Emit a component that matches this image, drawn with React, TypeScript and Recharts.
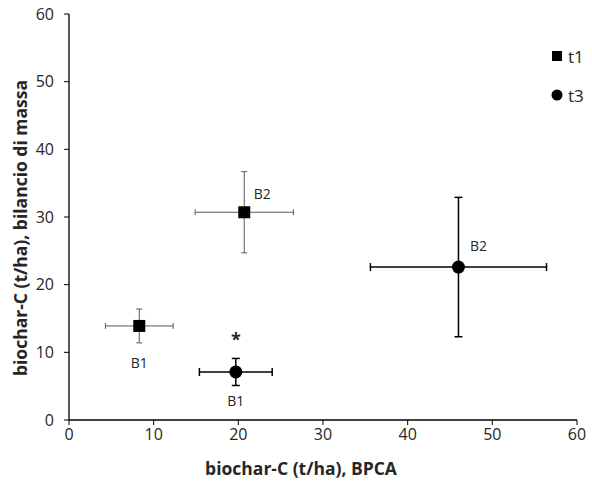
import React from 'react';
import { ScatterChart, Scatter, XAxis, YAxis, ErrorBar, Label, Legend } from 'recharts';

const t1Names = ['B1', 'B2'];
const t1X = [8.3, 20.7];
const t1Y = [13.9, 30.7];
const t1ErrX = [4.0, 5.8];
const t1ErrY = [2.5, 6.0];

const t3Names = ['B1', 'B2'];
const t3X = [19.7, 46.0];
const t3Y = [7.1, 22.6];
const t3ErrX = [4.3, 10.4];
const t3ErrY = [2.0, 10.3];
const t3Marks = ['*', ''];

const xTicks = [0, 10, 20, 30, 40, 50, 60];
const yTicks = [0, 10, 20, 30, 40, 50, 60];
const seriesNames = ['t1', 't3'];

const t1Data = t1Names.map((n, i) => ({ name: n, x: t1X[i], y: t1Y[i], ex: t1ErrX[i], ey: t1ErrY[i], mark: '' }));
const t3Data = t3Names.map((n, i) => ({ name: n, x: t3X[i], y: t3Y[i], ex: t3ErrX[i], ey: t3ErrY[i], mark: t3Marks[i] }));

// label placement (layout only)
const placeT1: Record<string, { dx: number; dy: number }> = { B1: { dx: 0, dy: 37 }, B2: { dx: 18, dy: -19 } };
const placeT3: Record<string, { dx: number; dy: number }> = { B1: { dx: 0, dy: 29 }, B2: { dx: 20, dy: -22 } };

const FONT = '"Open Sans", Lato, sans-serif';
const TXT = '#262626';

const SquareShape = (props: any) => {
  const { cx, cy, payload } = props;
  const p = placeT1[payload.name];
  return (
    <g>
      <rect x={cx - 6} y={cy - 6} width={12} height={12} fill="#000" />
      <text x={cx + p.dx} y={cy + p.dy} textAnchor="middle" dominantBaseline="central" fontSize={14} fontFamily={FONT} fill={TXT}>
        {payload.name}
      </text>
    </g>
  );
};

const CircleShape = (props: any) => {
  const { cx, cy, payload } = props;
  const p = placeT3[payload.name];
  return (
    <g>
      <circle cx={cx} cy={cy} r={6.5} fill="#000" />
      <text x={cx + p.dx} y={cy + p.dy} textAnchor="middle" dominantBaseline="central" fontSize={14} fontFamily={FONT} fill={TXT}>
        {payload.name}
      </text>
      {payload.mark ? (
        <text x={cx} y={cy - 33} textAnchor="middle" dominantBaseline="central" fontSize={18} fontWeight="bold" fontFamily={FONT} fill={TXT}>
          {payload.mark}
        </text>
      ) : null}
    </g>
  );
};

const LegendContent = () => (
  <div style={{ fontFamily: FONT, fontSize: 17, color: TXT }}>
    <div style={{ display: 'flex', alignItems: 'center', height: 22 }}>
      <svg width={12} height={12} style={{ marginRight: 5 }}>
        <rect x={1} y={1} width={10} height={10} fill="#000" />
      </svg>
      <span>{seriesNames[0]}</span>
    </div>
    <div style={{ display: 'flex', alignItems: 'center', height: 22, marginTop: 17 }}>
      <svg width={12} height={12} style={{ marginRight: 5 }}>
        <circle cx={6} cy={6} r={5.5} fill="#000" />
      </svg>
      <span>{seriesNames[1]}</span>
    </div>
  </div>
);

export default function App() {
  return (
    <div style={{ position: 'absolute', left: 0, top: 0, width: 592, height: 486, background: '#fff' }}>
      <ScatterChart width={592} height={486} margin={{ top: 14, right: 15, left: 0, bottom: 0 }}>
        <XAxis
          type="number"
          dataKey="x"
          domain={[0, 60]}
          ticks={xTicks}
          interval={0}
          height={66}
          tickSize={5}
          tickMargin={4}
          axisLine={{ stroke: '#000', strokeWidth: 1.3 }}
          tickLine={{ stroke: '#000' }}
          tick={{ fontSize: 16, fontFamily: FONT, fill: TXT }}
        >
          <Label
            content={(props: any) => {
              const vb = props.viewBox;
              return (
                <text x={vb.x + vb.width / 2 - 22} y={vb.y + 48} textAnchor="middle" dominantBaseline="central" fontSize={17.5} fontWeight="bold" fontFamily={FONT} fill={TXT}>
                  biochar-C (t/ha), BPCA
                </text>
              );
            }}
          />
        </XAxis>
        <YAxis
          type="number"
          dataKey="y"
          domain={[0, 60]}
          ticks={yTicks}
          interval={0}
          width={69}
          tickSize={5}
          tickMargin={10}
          axisLine={{ stroke: '#000', strokeWidth: 1.3 }}
          tickLine={{ stroke: '#000' }}
          tick={{ fontSize: 16, fontFamily: FONT, fill: TXT }}
        >
          <Label
            content={(props: any) => {
              const vb = props.viewBox;
              const x = vb.x + 20;
              const y = vb.y + vb.height / 2 + 11;
              return (
                <text x={x} y={y} transform={`rotate(-90 ${x} ${y})`} textAnchor="middle" dominantBaseline="central" fontSize={17.5} fontWeight="bold" fontFamily={FONT} fill={TXT}>
                  biochar-C (t/ha), bilancio di massa
                </text>
              );
            }}
          />
        </YAxis>
        <Legend
          layout="vertical"
          align="center"
          verticalAlign="middle"
          content={<LegendContent />}
          wrapperStyle={{ position: 'absolute', left: 551, top: 45, width: 41 }}
        />
        <Scatter name={seriesNames[0]} data={t1Data} shape={<SquareShape />} isAnimationActive={false}>
          <ErrorBar dataKey="ex" direction="x" width={3} stroke="#595959" strokeWidth={1} />
          <ErrorBar dataKey="ey" direction="y" width={3} stroke="#595959" strokeWidth={1} />
        </Scatter>
        <Scatter name={seriesNames[1]} data={t3Data} shape={<CircleShape />} isAnimationActive={false}>
          <ErrorBar dataKey="ex" direction="x" width={4} stroke="#000" strokeWidth={1.5} />
          <ErrorBar dataKey="ey" direction="y" width={4} stroke="#000" strokeWidth={1.5} />
        </Scatter>
      </ScatterChart>
    </div>
  );
}
